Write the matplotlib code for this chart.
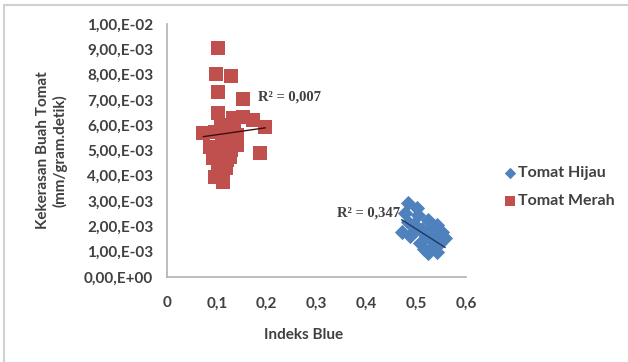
import matplotlib
matplotlib.use("Agg")
import matplotlib.pyplot as plt
import numpy as np
from matplotlib.patches import Rectangle

# ---- data ----
hijau_x = [0.484, 0.501, 0.478, 0.504, 0.524, 0.541, 0.484, 0.471, 0.498, 0.518,
           0.551, 0.558, 0.508, 0.531, 0.548, 0.524, 0.541, 0.488, 0.534,
           0.495, 0.512, 0.528, 0.515, 0.545]
hijau_y = [0.00291, 0.00272, 0.00252, 0.00245, 0.00225, 0.00206, 0.00219, 0.00179, 0.00186, 0.00166,
           0.00179, 0.00153, 0.00133, 0.00120, 0.00133, 0.00094, 0.00100, 0.00160, 0.00192,
           0.00210, 0.00190, 0.00150, 0.00110, 0.00160]

merah_x = [0.103, 0.098, 0.128, 0.103, 0.152, 0.103, 0.133, 0.153, 0.173, 0.197,
           0.073, 0.096, 0.120, 0.140, 0.086, 0.113, 0.140, 0.187, 0.093, 0.120,
           0.103, 0.096, 0.113, 0.127,
           0.108, 0.125, 0.110, 0.128, 0.100, 0.135, 0.118, 0.105]
merah_y = [0.00904, 0.00801, 0.00794, 0.00732, 0.00704, 0.00647, 0.00627, 0.00634, 0.00620, 0.00594,
           0.00568, 0.00574, 0.00555, 0.00561, 0.00515, 0.00515, 0.00522, 0.00489, 0.00469, 0.00462,
           0.00436, 0.00396, 0.00377, 0.00475,
           0.00600, 0.00590, 0.00530, 0.00500, 0.00490, 0.00580, 0.00430, 0.00410]

# trendline coefficients (slope, intercept) and R² labels as shown
hijau_trend = [-0.01253, 0.00816]
merah_trend = [0.0028, 0.00534]
hijau_r2 = "R² = 0,347"
merah_r2 = "R² = 0,007"

series_names = ["Tomat Hijau", "Tomat Merah"]
x_ticks = [0, 0.1, 0.2, 0.3, 0.4, 0.5, 0.6]
x_tick_labels = ["0", "0,1", "0,2", "0,3", "0,4", "0,5", "0,6"]
y_ticks = [0.000, 0.001, 0.002, 0.003, 0.004, 0.005, 0.006, 0.007, 0.008, 0.009, 0.010]
y_tick_labels = ["0,00,E+00", "1,00,E-03", "2,00,E-03", "3,00,E-03", "4,00,E-03", "5,00,E-03",
                 "6,00,E-03", "7,00,E-03", "8,00,E-03", "9,00,E-03", "1,00,E-02"]
x_label = "Indeks Blue"
y_label = "Kekerasan Buah Tomat\n(mm/gram.detik)"

BLUE = "#4F81BD"
RED = "#C0504D"
TXT = "#404040"

plt.rcParams['font.family'] = ['Lato', 'DejaVu Sans']

fig = plt.figure(figsize=(6.28, 3.62), dpi=100)
fig.patch.set_facecolor("white")
fig.patches.append(Rectangle((0.006, -0.02), 1.1, 1.005, transform=fig.transFigure,
                             fill=False, edgecolor="#d0d0d0", linewidth=1.5))

ax = fig.add_axes([0.266, 0.235, 0.476, 0.699])
ax.scatter(hijau_x, hijau_y, marker="D", s=60, color=BLUE, linewidths=0, label=series_names[0], zorder=3)
ax.scatter(merah_x, merah_y, marker="s", s=90, color=RED, linewidths=0, label=series_names[1], zorder=3)

hx = np.array([min(hijau_x), max(hijau_x)])
ax.plot(hx, np.polyval(hijau_trend, hx), color="#1F3864", lw=1.0, zorder=4)
mx = np.array([min(merah_x), max(merah_x)])
ax.plot(mx, np.polyval(merah_trend, mx), color="#3b1010", lw=1.0, zorder=4)

ax.text(0.1826, 0.00711, merah_r2, fontsize=10.5, fontweight="bold", color=TXT, va="center", ha="left",
        family=["Liberation Serif", "DejaVu Serif"])
ax.text(0.467, 0.00253, hijau_r2, fontsize=10.5, fontweight="bold", color=TXT, va="center", ha="right",
        family=["Liberation Serif", "DejaVu Serif"])

ax.set_xlim(0, 0.6)
ax.set_ylim(0, 0.010)
ax.set_xticks(x_ticks)
ax.set_xticklabels(x_tick_labels)
ax.set_yticks(y_ticks)
ax.set_yticklabels(y_tick_labels)
ax.tick_params(axis="both", length=0, labelsize=11, colors=TXT)
ax.tick_params(axis="x", pad=14)
ax.tick_params(axis="y", pad=10)
for lab in ax.get_xticklabels() + ax.get_yticklabels():
    lab.set_fontweight("bold")
for s in ["top", "right"]:
    ax.spines[s].set_visible(False)
for s in ["left", "bottom"]:
    ax.spines[s].set_color("#b0b0b0")
    ax.spines[s].set_linewidth(1.2)

fig.text(0.484, 0.075, x_label, ha="center", va="center", fontsize=11, fontweight="bold", color=TXT)
fig.text(0.083, 0.585, y_label, ha="center", va="center", rotation=90, fontsize=11, fontweight="bold",
         color=TXT, linespacing=1.2)

leg = ax.legend(loc="center left", bbox_to_anchor=(0.786, 0.483), bbox_transform=fig.transFigure,
                frameon=False, fontsize=11.5, labelspacing=0.85, handletextpad=0.0, handlelength=1.0,
                markerscale=0.75, borderpad=0)
for t in leg.get_texts():
    t.set_fontweight("bold")
    t.set_color(TXT)

fig.savefig("out.png", dpi=100)
